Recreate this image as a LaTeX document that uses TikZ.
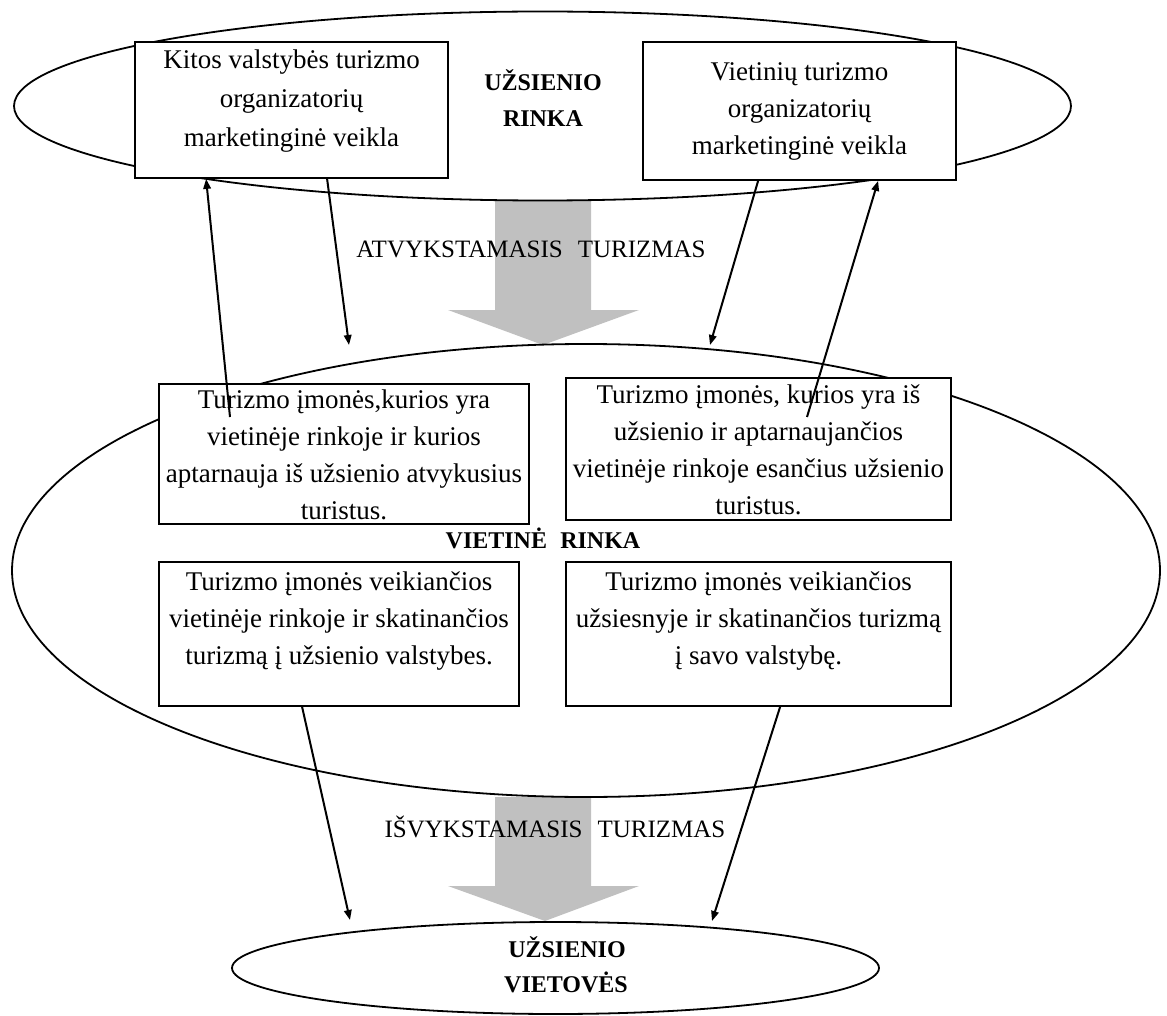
\documentclass[tikz,border=0pt]{standalone}
\usepackage{fontspec}
\setmainfont{Liberation Serif}
\usetikzlibrary{shapes.geometric,arrows.meta}
\definecolor{flowgray}{RGB}{192,192,192}
\begin{document}
\begin{tikzpicture}[x=1pt,y=-1pt,
  ring/.style={draw,ellipse,line width=1.8pt,inner sep=0pt},
  panel/.style={draw,fill=white,line width=1.8pt,inner sep=0pt},
  panetext/.style={anchor=north,inner sep=0pt,align=center,font=\fontsize{27}{37}\selectfont},
  zonelabel/.style={anchor=base,inner sep=0pt,font=\fontsize{24}{36}\selectfont\bfseries},
  flowtext/.style={anchor=base,inner sep=0pt,font=\fontsize{25}{30}\selectfont},
  flow/.style={fill=flowgray,draw=none},
  link/.style={line width=2pt,-{Triangle[length=10pt,width=7.5pt]}}
]
\useasboundingbox (0,0) rectangle (1167,1016);

% broad grey flows between the markets
\fill[flow] (495,200) -- (591,200) -- (591,310) -- (639,310) -- (543,345)
  -- (448,310) -- (495,310) -- cycle;
\fill[flow] (495,797) -- (591,797) -- (591,886) -- (639,886) -- (545,921)
  -- (448,886) -- (495,886) -- cycle;

% markets
\node[ring, minimum width=1057pt, minimum height=189pt] (foreign) at (542.5,106) {};
\node[ring, minimum width=1148pt, minimum height=453pt] (domestic) at (586,570.5) {};
\node[ring, minimum width=647pt, minimum height=92pt] (places) at (555.5,968) {};

% boxes
\node[panel, minimum width=313pt, minimum height=136pt] (box1) at (291.5,110) {};
\node[panel, minimum width=313pt, minimum height=138pt] (box2) at (799.5,111) {};
\node[panel, minimum width=370pt, minimum height=140pt] (box3) at (344,454) {};
\node[panel, minimum width=385pt, minimum height=142pt] (box4) at (758.5,449) {};
\node[panel, minimum width=360pt, minimum height=144pt] (box5) at (339,634) {};
\node[panel, minimum width=385pt, minimum height=144pt] (box6) at (758.5,634) {};

% box texts
\node[panetext, font=\fontsize{27}{39}\selectfont] (txt1) at (291.5,48)
  {\rule{0pt}{20pt}Kitos valstybės turizmo\\organizatorių\\marketinginė veikla};
\node[panetext, font=\fontsize{27}{37}\selectfont] (txt2) at (799.5,60)
  {\rule{0pt}{20pt}Vietinių turizmo\\organizatorių\\marketinginė veikla};
\node[panetext] (txt3) at (344,388)
  {\rule{0pt}{20pt}Turizmo įmonės,kurios yra\\vietinėje rinkoje ir kurios\\aptarnauja iš užsienio atvykusius\\turistus.};
\node[panetext] (txt4) at (758.5,383)
  {\rule{0pt}{20pt}Turizmo įmonės, kurios yra iš\\užsienio ir aptarnaujančios\\vietinėje rinkoje esančius užsienio\\turistus.};
\node[panetext] (txt5) at (339,570)
  {\rule{0pt}{20pt}Turizmo įmonės veikiančios\\vietinėje rinkoje ir skatinančios\\turizmą į užsienio valstybes.};
\node[panetext] (txt6) at (758.5,570)
  {\rule{0pt}{20pt}Turizmo įmonės veikiančios\\užsiesnyje ir skatinančios turizmą\\į savo valstybę.};

% market and flow labels
\node[zonelabel] (fm1) at (543,91) {UŽSIENIO};
\node[zonelabel] (fm2) at (543,127) {RINKA};
\node[flowtext] (inflow) at (531,258) {ATVYKSTAMASIS\hspace{0.6em}TURIZMAS};
\node[zonelabel] (dm) at (543,548) {VIETINĖ\hspace{0.55em}RINKA};
\node[flowtext] (outflow) at (555,837) {IŠVYKSTAMASIS\hspace{0.6em}TURIZMAS};
\node[zonelabel] (fp1) at (567,957) {UŽSIENIO};
\node[zonelabel] (fp2) at (566,992) {VIETOVĖS};

% free ends of the connectors
\coordinate (s3) at (230,417);
\coordinate (s4) at (807,417);
\coordinate (e1) at (349,345);
\coordinate (e2) at (710,345);
\coordinate (e5) at (350,920);
\coordinate (e6) at (712,921);

% connectors
\draw[link] (s3) -- ([xshift=72pt]box1.south west);
\draw[link] ([xshift=193pt]box1.south west) -- (e1);
\draw[link] ([xshift=116pt]box2.south west) -- (e2);
\draw[link] (s4) -- ([xshift=236pt]box2.south west);
\draw[link] ([xshift=144pt]box5.south west) -- (e5);
\draw[link] ([xshift=215pt]box6.south west) -- (e6);
\end{tikzpicture}
\end{document}
